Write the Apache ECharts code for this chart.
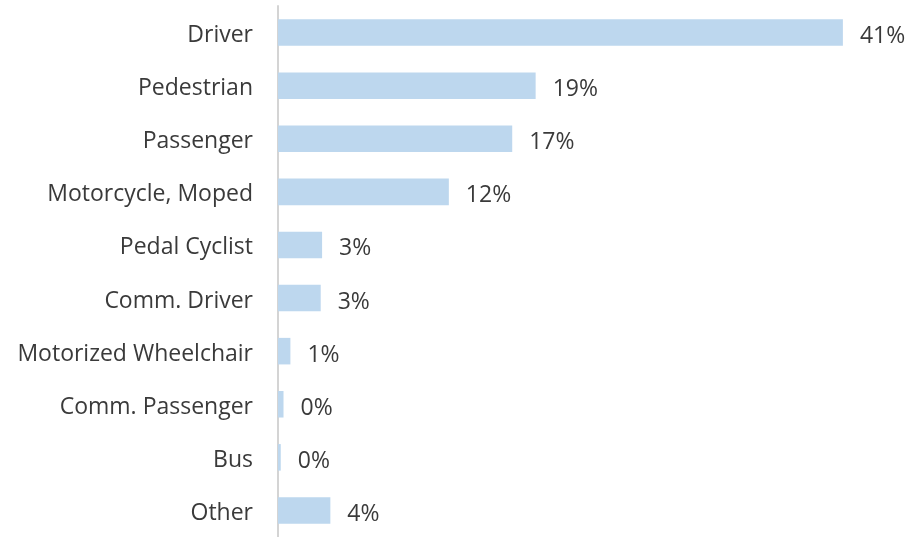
<!DOCTYPE html>
<html>
<head>
<meta charset="utf-8">
<script src="https://cdn.jsdelivr.net/npm/echarts@6/dist/echarts.min.js"></script>
<style>
html, body { margin: 0; padding: 0; background: #fff; }
#chartContainer { width: 912px; height: 537px; }
</style>
</head>
<body>
<div id="chartContainer"></div>
<script>
var categories = ['Driver', 'Pedestrian', 'Passenger', 'Motorcycle, Moped', 'Pedal Cyclist',
	'Comm. Driver', 'Motorized Wheelchair', 'Comm. Passenger', 'Bus', 'Other'];
var shares = [41.0, 18.7, 17.0, 12.4, 3.2, 3.1, 0.9, 0.4, 0.2, 3.8];

var option = {
	animation: false,
	grid: {
		left: 278,
		right: 14,
		top: 6,
		bottom: -2
	},
	xAxis: {
		type: 'value',
		min: 0,
		max: 45,
		show: false
	},
	yAxis: {
		type: 'category',
		inverse: true,
		data: categories,
		axisLine: {
			lineStyle: { color: '#d4d4d4', width: 2 }
		},
		axisTick: { show: false },
		axisLabel: {
			margin: 25,
			formatter: '{t|{value}}',
			rich: {
				t: {
					fontSize: 23,
					fontFamily: 'Open Sans',
					color: '#3a3a3a',
					padding: [6, 0, 0, 0]
				}
			}
		}
	},
	series: [
		{
			type: 'bar',
			data: shares,
			barCategoryGap: '50%',
			itemStyle: { color: '#bdd7ee' },
			label: {
				show: true,
				position: 'right',
				distance: 17,
				offset: [0, 4],
				fontSize: 23,
				fontFamily: 'Open Sans',
				color: '#3a3a3a',
				formatter: function (p) {
					return Math.round(p.value) + '%';
				}
			}
		}
	]
};

var chart = echarts.init(document.getElementById('chartContainer'));
chart.setOption(option);
</script>
</body>
</html>
